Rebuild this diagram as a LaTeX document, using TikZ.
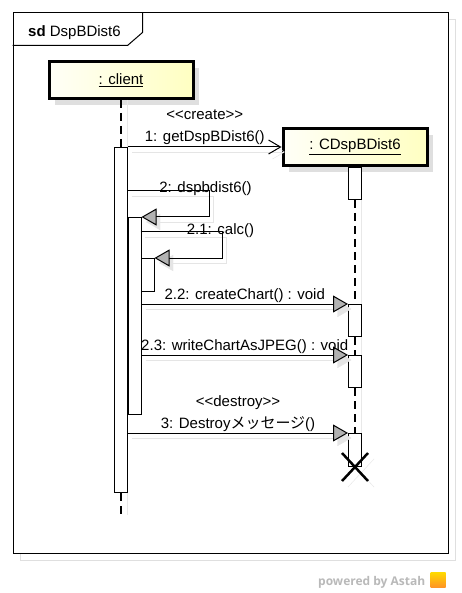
\documentclass[tikz,border=0pt]{standalone}
\usepackage{fontspec}
\setmainfont{Liberation Sans}
\newfontfamily\jpfont{Noto Sans CJK JP}
\newfontfamily\logofont{Open Sans}
\usetikzlibrary{arrows.meta,shadows,calc}

\begin{document}
\begin{tikzpicture}[x=1pt, y=-1pt,
  every node/.style={font=\fontsize{15}{18}\selectfont},
  obj/.style={rectangle, draw, line width=3pt, minimum width=144pt,
    minimum height=37pt, left color=yellow!3, right color=yellow!24,
    drop shadow={shadow xshift=6pt, shadow yshift=-7pt, fill=gray!25, opacity=1}},
  act/.style={rectangle, draw, fill=white, line width=1pt,
    minimum width=13pt, inner sep=0pt},
  life/.style={line width=1.2pt, dash pattern=on 8pt off 5pt,
    preaction={draw=gray!18, solid, line width=1pt, transform canvas={xshift=6pt}}},
  call/.style={line width=1pt, -{Triangle[length=15pt, width=17pt, fill=gray!60]},
    preaction={draw=gray!20, -{Triangle[length=15pt, width=17pt, fill=gray!20]},
      transform canvas={xshift=4pt, yshift=-5pt}}},
  new/.style={line width=1pt, -{Straight Barb[length=12pt, width=14pt]},
    preaction={draw=gray!20, transform canvas={xshift=4pt, yshift=-5pt}}},
  lbl/.style={inner sep=0pt, anchor=base}]
  \useasboundingbox[fill=white] (0,0) rectangle (462,593);

  % frame
  \draw[gray!25, line width=1pt] (20,20) rectangle (455,560);
  \node[draw, fill=white, line width=1pt, minimum width=435pt, minimum height=540pt,
    inner sep=0pt] (sd) at (230.5,283) {};
  \draw[line width=1pt] ($(sd.north west)+(0,33)$) -- ++(115,0) -- ++(15,-13) -- ++(0,-20);
  \node[lbl, anchor=base west] (title) at (28,37) {\textbf{sd} DspBDist6};

  % objects and activations
  \node[obj] (client) at (121,80) {\underline{: client}};
  \node[obj] (cdsp) at (355,147) {\underline{: CDspBDist6}};
  \node[act, minimum height=345pt] (act1) at (121,320) {};
  \node[act, minimum height=197pt] (act2) at (134.5,316) {};
  \node[act, minimum height=33pt] (act21) at (147.5,275) {};
  \foreach \n/\y/\h in {c0/183.5/32, c1/320.5/32, c2/371.5/32, c3/450/33}
    \node[act, minimum height=\h pt] (\n) at (355,\y) {};

  % lifelines
  \coordinate (end1) at (121,515);
  \draw[life] (client.south) -- (act1.north);
  \draw[life] (act1.south) -- (end1);
  \foreach \a/\b in {c0/c1, c1/c2, c2/c3}
    \draw[life] (\a.south) -- (\b.north);

  % messages
  \draw[new] (act1.north east) -- (cdsp.west)
    node[lbl, midway, yshift=5pt] {1: getDspBDist6()}
    node[lbl, midway, yshift=27pt] {<{}<create>{}>};
  \draw[call] ($(act2.north west)+(0,-26)$)
    -| node[lbl, pos=0.5, xshift=-4pt, yshift=-2pt] {2: dspbdist6()}
    ($(act2.north east)+(68,0)$) -- (act2.north east);
  \draw[call] ($(act21.north west)+(0,-26)$)
    -| node[lbl, pos=0.5, xshift=-2pt, yshift=-3pt] {2.1: calc()}
    ($(act21.north east)+(68,0)$) -- (act21.north east);
  \draw[call] (act2.east |- c1.north west) -- (c1.north west)
    node[lbl, midway, yshift=5pt] {2.2: createChart() : void};
  \draw[call] (act2.east |- c2.north west) -- (c2.north west)
    node[lbl, midway, yshift=5pt] {2.3: writeChartAsJPEG() : void};
  \draw[call] (act1.east |- c3.north west) -- (c3.north west)
    node[lbl, midway, yshift=5pt] {3: Destroy{\jpfont メッセージ}()}
    node[lbl, midway, yshift=27pt] {<{}<destroy>{}>};

  % destruction
  \draw[line width=2.5pt, preaction={draw=gray!20, transform canvas={xshift=6pt, yshift=-6pt}}]
    ($(c3.south)+(-13,-14)$) -- ($(c3.south)+(13,14)$)
    ($(c3.south)+(13,-14)$) -- ($(c3.south)+(-13,14)$);

  % logo
  \node[anchor=base west, inner sep=0pt, text=gray!55,
    font=\logofont\bfseries\fontsize{12}{14}\selectfont] (logo) at (318,585) {powered by Astah};
  \node[minimum size=15pt, inner sep=0pt, top color=yellow!70!orange,
    bottom color=orange!85] (icon) at (438,580) {};
\end{tikzpicture}
\end{document}
